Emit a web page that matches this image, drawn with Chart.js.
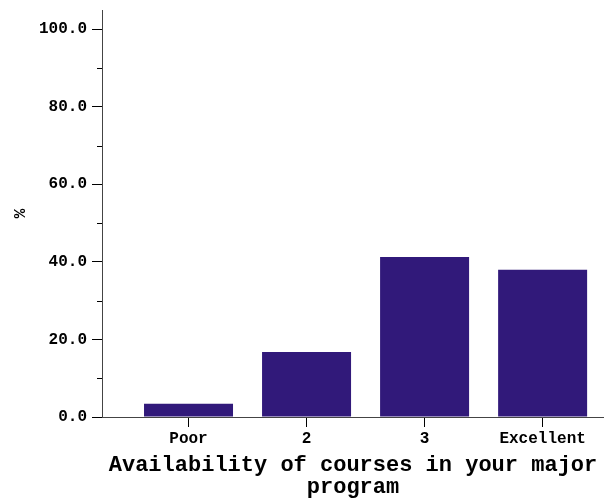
<!DOCTYPE html>
<html><head><meta charset="utf-8">
<script src="https://cdn.jsdelivr.net/npm/chart.js@4/dist/chart.umd.min.js"></script>
<style>html,body{margin:0;padding:0;background:#fff}#wrap{width:604px;height:498px}</style>
</head><body><div id="wrap"><canvas id="c" width="604" height="498"></canvas></div>
<script>
const categories = ['Poor', '2', '3', 'Excellent'];
const percentages = [3.4, 16.8, 41.3, 38.0];
const yTicks = [0, 20, 40, 60, 80, 100];
const yMinorTicks = [10, 30, 50, 70, 90];
const xTitle = ['Availability of courses in your major', 'program'];
const yTitle = '%';

const FONT = "'Courier New', 'Nimbus Mono PS', 'FreeMono', 'Liberation Mono', monospace";

const minorTickPlugin = {
  id: 'minorTicks',
  afterDraw(chart) {
    const s = chart.scales.y;
    const ctx = chart.ctx;
    ctx.save();
    ctx.strokeStyle = '#000';
    ctx.lineWidth = 1;
    yMinorTicks.forEach(v => {
      const y = Math.round(s.getPixelForValue(v)) + 0.5;
      ctx.beginPath();
      ctx.moveTo(s.right - 5, y);
      ctx.lineTo(s.right, y);
      ctx.stroke();
    });
    ctx.restore();
  }
};

new Chart(document.getElementById('c'), {
  type: 'bar',
  data: {
    datasets: [{
      data: categories.map((c, i) => ({ x: i, y: percentages[i] })),
      backgroundColor: '#31197A',
      borderWidth: 0,
      barPercentage: 0.754,
      categoryPercentage: 1
    }]
  },
  options: {
    responsive: false,
    animation: false,
    events: [],
    layout: { padding: { top: 10, left: 0, right: 0, bottom: 0 } },
    plugins: { legend: { display: false }, tooltip: { enabled: false } },
    scales: {
      x: {
        type: 'linear',
        position: 'bottom',
        offset: false,
        min: -0.733,
        max: 3.52,
        afterBuildTicks: s => { s.ticks = categories.map((c, i) => ({ value: i })); },
        afterFit: s => { s.height = 81; s.paddingLeft = 0; s.paddingRight = 0; },
        grid: { offset: false, drawOnChartArea: false, tickLength: 10, tickColor: '#000', lineWidth: 1 },
        border: { color: '#444', width: 1 },
        ticks: {
          autoSkip: false, maxRotation: 0, padding: 2, color: '#000',
          font: { family: FONT, size: 16, weight: 'bold' },
          callback: v => categories[v]
        },
        title: {
          display: true, text: xTitle, color: '#000',
          font: { family: FONT, size: 22, weight: 'bold', lineHeight: 1 },
          padding: { top: 0, bottom: 0 }
        }
      },
      y: {
        min: 0,
        max: 105,
        afterBuildTicks: s => { s.ticks = yTicks.map(v => ({ value: v })); },
        afterFit: s => { s.width = 102; s.paddingTop = 0; s.paddingBottom = 0; },
        grid: { drawOnChartArea: false, tickLength: 10, tickColor: '#000', lineWidth: 1 },
        border: { color: '#444', width: 1 },
        ticks: {
          padding: 5, color: '#000',
          font: { family: FONT, size: 16, weight: 'bold' },
          callback: v => Number(v).toFixed(1)
        },
        title: {
          display: true, text: yTitle, color: '#000',
          font: { family: FONT, size: 16, weight: 'bold' },
          padding: { top: 11, bottom: 0 }
        }
      }
    }
  },
  plugins: [minorTickPlugin]
});
</script></body></html>
